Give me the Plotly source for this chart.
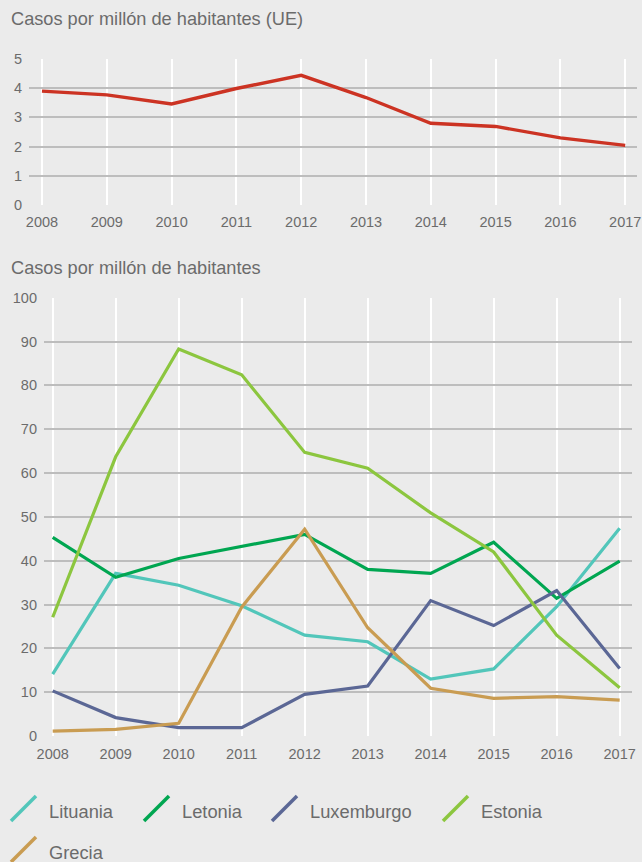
import plotly.graph_objects as go

# ---- data ----
years = [2008, 2009, 2010, 2011, 2012, 2013, 2014, 2015, 2016, 2017]

ue = [3.9, 3.77, 3.46, 3.99, 4.44, 3.68, 2.8, 2.69, 2.3, 2.04]

lituania = [14.1, 37.1, 34.4, 29.7, 23.0, 21.5, 13.0, 15.3, 29.5, 47.4]
letonia = [45.3, 36.2, 40.5, 43.3, 46.0, 38.0, 37.1, 44.2, 31.4, 39.9]
luxemburgo = [10.3, 4.2, 1.9, 1.9, 9.5, 11.4, 30.9, 25.2, 33.2, 15.4]
estonia = [27.1, 63.7, 88.3, 82.4, 64.7, 61.1, 50.9, 42.0, 23.0, 11.0]
grecia = [1.1, 1.5, 2.9, 29.4, 47.2, 24.7, 10.9, 8.6, 9.0, 8.2]

countries = ["Lituania", "Letonia", "Luxemburgo", "Estonia", "Grecia"]
series = [lituania, letonia, luxemburgo, estonia, grecia]

top_ticks = [0, 1, 2, 3, 4, 5]
bottom_ticks = [0, 10, 20, 30, 40, 50, 60, 70, 80, 90, 100]

top_title = "Casos por millón de habitantes (UE)"
bottom_title = "Casos por millón de habitantes"

# ---- styling ----
W, H = 642, 862
BG = "#ebebeb"
GRID_H = "#bdbdbd"
GRID_V = "#ffffff"
TEXT = "#6b6b6b"
FONT = "Liberation Sans, Arial, sans-serif"
ue_color = "#cc3323"
colors = ["#52c6ba", "#00a651", "#5b6795", "#8cc63f", "#c99c52"]


def px_x(v):
    return v / W


def px_y(v):
    return 1 - v / H


fig = go.Figure()

fig.add_trace(go.Scatter(
    x=years, y=ue, mode="lines", line=dict(color=ue_color, width=3.4),
    xaxis="x", yaxis="y", showlegend=False, hoverinfo="x+y",
))

for name, vals, col in zip(countries, series, colors):
    fig.add_trace(go.Scatter(
        x=years, y=vals, mode="lines", name=name,
        line=dict(color=col, width=3.2),
        xaxis="x2", yaxis="y2", showlegend=False,
    ))

axis_common = dict(
    showline=False, zeroline=False, ticks="", automargin=False,
    tickfont=dict(family=FONT, size=14.5, color=TEXT),
)

fig.update_layout(
    width=W, height=H,
    margin=dict(l=0, r=0, t=0, b=0, autoexpand=False),
    paper_bgcolor=BG, plot_bgcolor=BG,
    font=dict(family=FONT, color=TEXT),
    xaxis=dict(
        domain=[px_x(29), px_x(636.5)], range=[2007.8, 2017.174],
        tickvals=years, ticktext=[str(y) for y in years],
        showgrid=True, gridcolor=GRID_V, gridwidth=1.8,
        anchor="y", ticklabelstandoff=6, **axis_common,
    ),
    yaxis=dict(
        domain=[px_y(205), px_y(59)], range=[0, 5],
        tickvals=top_ticks, showgrid=True, gridcolor=GRID_H, gridwidth=1.6,
        anchor="x", ticklabelstandoff=6, **axis_common,
    ),
    xaxis2=dict(
        domain=[px_x(44), px_x(631.7)], range=[2007.862, 2017.191],
        tickvals=years, ticktext=[str(y) for y in years],
        showgrid=True, gridcolor=GRID_V, gridwidth=1.8,
        anchor="y2", ticklabelstandoff=7, **axis_common,
    ),
    yaxis2=dict(
        domain=[px_y(736), px_y(297.7)], range=[0, 100],
        tickvals=bottom_ticks, showgrid=True, gridcolor=GRID_H, gridwidth=1.6,
        anchor="x2", ticklabelstandoff=6, **axis_common,
    ),
)

# panel titles
for txt, ypx in [(top_title, 19), (bottom_title, 268)]:
    fig.add_annotation(
        text=txt, xref="paper", yref="paper", x=px_x(9), y=px_y(ypx),
        xanchor="left", yanchor="middle", showarrow=False,
        font=dict(family=FONT, size=18.2, color=TEXT),
    )

# legend with slanted line keys
legend_pos = [(11, 821), (144, 821), (272, 821), (443, 821), (11, 862)]
for name, col, (lx, ly) in zip(countries, colors, legend_pos):
    fig.add_shape(
        type="line", xref="paper", yref="paper",
        x0=px_x(lx), y0=px_y(ly), x1=px_x(lx + 25), y1=px_y(ly - 25),
        line=dict(color=col, width=3.5),
    )
    fig.add_annotation(
        text=name, xref="paper", yref="paper",
        x=px_x(lx + 36), y=px_y(ly - 9.5),
        xanchor="left", yanchor="middle", showarrow=False,
        font=dict(family=FONT, size=18.3, color=TEXT),
    )

fig.write_html("out.html")
